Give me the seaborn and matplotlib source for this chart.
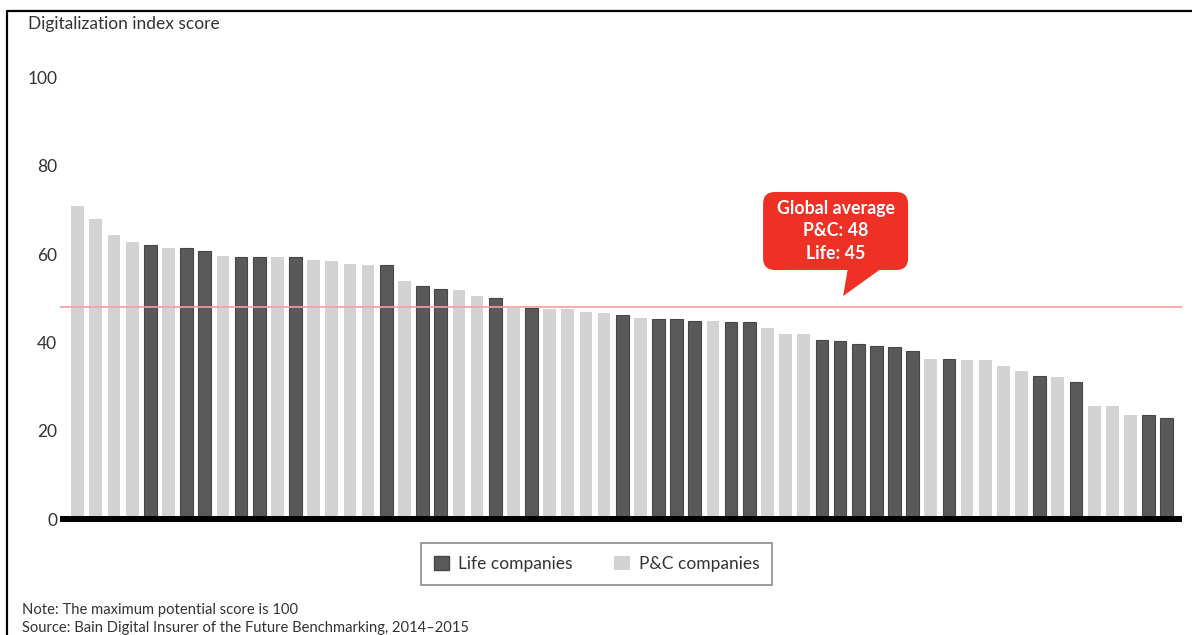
import matplotlib
matplotlib.use("Agg")
import matplotlib.pyplot as plt
import seaborn as sns
import pandas as pd
from matplotlib.patches import FancyBboxPatch, Polygon, Patch
from matplotlib.lines import Line2D

# Digitalization index score per insurer, sorted high to low
scores = [71.0, 68.0, 64.4, 62.7, 62.1, 61.3, 61.3, 60.7, 59.5, 59.3,
          59.3, 59.3, 59.3, 58.7, 58.4, 57.8, 57.6, 57.6, 53.8, 52.8,
          52.1, 51.9, 50.4, 50.0, 47.7, 47.7, 47.6, 47.5, 46.9, 46.7,
          46.1, 45.5, 45.3, 45.3, 44.8, 44.8, 44.6, 44.6, 43.3, 41.8,
          41.8, 40.5, 40.3, 39.7, 39.2, 38.9, 38.1, 36.2, 36.2, 36.0,
          36.0, 34.7, 33.6, 32.5, 32.1, 31.1, 25.7, 25.7, 23.6, 23.5,
          22.9]
L, P = "Life companies", "P&C companies"
segments = [P, P, P, P, L, P, L, L, P, L,
            L, P, L, P, P, P, P, L, P, L,
            L, P, P, L, P, L, P, P, P, P,
            L, P, L, L, L, P, L, L, P, P,
            P, L, L, L, L, L, L, P, L, P,
            P, P, P, L, P, L, P, P, P, L,
            L]
series_labels = [L, P]
avg_pc = 48
avg_life = 45
y_ticks = [0, 20, 40, 60, 80, 100]

sns.set_theme(style="white")
plt.rcParams["font.family"] = ["Lato", "DejaVu Sans"]

DARK = "#58595b"
DARK_EDGE = "#464749"
LIGHT = "#d1d3d4"
RED = "#ee3124"
AVG_LINE = "#f4a19d"
TEXT = "#333333"

W, H = 1192, 635
fig = plt.figure(figsize=(W / 100, H / 100), dpi=100)
ax = fig.add_axes([60 / W, (H - 519) / H, 1122 / W, 441.5 / H])

df = pd.DataFrame({"company": range(len(scores)), "score": scores, "segment": segments})
sns.barplot(data=df, x="company", y="score", hue="segment", hue_order=series_labels,
            palette=[DARK, LIGHT], dodge=False, width=0.7, saturation=1,
            legend=False, ax=ax, zorder=2)
for bar in ax.patches:
    r, g, b, _ = bar.get_facecolor()
    if r < 0.5:
        bar.set_edgecolor(DARK_EDGE)
        bar.set_linewidth(0.8)
    else:
        bar.set_edgecolor("none")

ax.set_xlim(-0.975, 60.84)
ax.set_ylim(0, 100)
sns.despine(ax=ax, left=True, bottom=True)
ax.set_xticks([])
ax.set_yticks(y_ticks)
ax.set_yticklabels([str(t) for t in y_ticks])
ax.tick_params(axis="y", length=0, pad=2, labelsize=12.5, labelcolor=TEXT)
ax.set_xlabel("")
ax.set_ylabel("")
ax.grid(False)

# zero baseline and P&C global average
ax.axhline(0, color="black", lw=4.3, clip_on=False, zorder=5, solid_capstyle="butt")
ax.axhline(avg_pc, color=AVG_LINE, lw=1.2, zorder=4, solid_capstyle="butt")

# speech-bubble callout pointing at the average line
box_x0, box_x1 = 37.76, 45.75
box_y0, box_y1 = 56.4, 74.07
bubble = FancyBboxPatch((box_x0, box_y0), box_x1 - box_x0, box_y1 - box_y0,
                        boxstyle="round,pad=0,rounding_size=0.66",
                        mutation_aspect=4.11, fc=RED, ec="none", zorder=6)
ax.add_patch(bubble)
tail = Polygon([(42.44, box_y0 + 0.6), (44.37, box_y0 + 0.6), (42.17, avg_pc + 2.5)],
               closed=True, fc=RED, ec="none", zorder=6)
ax.add_patch(tail)
ax.text((box_x0 + box_x1) / 2, (box_y0 + box_y1) / 2,
        f"Global average\nP&C: {avg_pc}\nLife: {avg_life}",
        ha="center", va="center", color="white", fontweight="bold",
        fontsize=12.8, linespacing=1.36, zorder=7)

# legend
handles = [Patch(facecolor=DARK, edgecolor=DARK_EDGE), Patch(facecolor=LIGHT, edgecolor="none")]
leg = ax.legend(handles=handles, labels=series_labels, loc="center",
                bbox_to_anchor=(596.5 / W, (H - 564) / H), bbox_transform=fig.transFigure,
                ncol=2, frameon=True, fancybox=False, fontsize=12.5,
                handlelength=0.9, handleheight=0.9, handletextpad=0.5,
                columnspacing=2.4, borderpad=0.75, borderaxespad=0)
leg.get_frame().set_edgecolor("#6d6e71")
leg.get_frame().set_linewidth(1.2)
for t in leg.get_texts():
    t.set_color(TEXT)

# titles and notes
fig.text(28 / W, (H - 29) / H, "Digitalization index score", fontsize=12.5,
         color=TEXT, va="baseline", ha="left")
fig.text(22 / W, (H - 614) / H, "Note: The maximum potential score is 100",
         fontsize=10.6, color=TEXT, va="baseline", ha="left")
fig.text(22 / W, (H - 632) / H, "Source: Bain Digital Insurer of the Future Benchmarking, 2014\u20132015",
         fontsize=10.6, color=TEXT, va="baseline", ha="left")

# frame lines on the top and left edges
fig.add_artist(Line2D([7 / W, 7 / W, 1], [0, (H - 11) / H, (H - 11) / H],
                      color="black", lw=1.6))

fig.savefig("out.png", dpi=100)
